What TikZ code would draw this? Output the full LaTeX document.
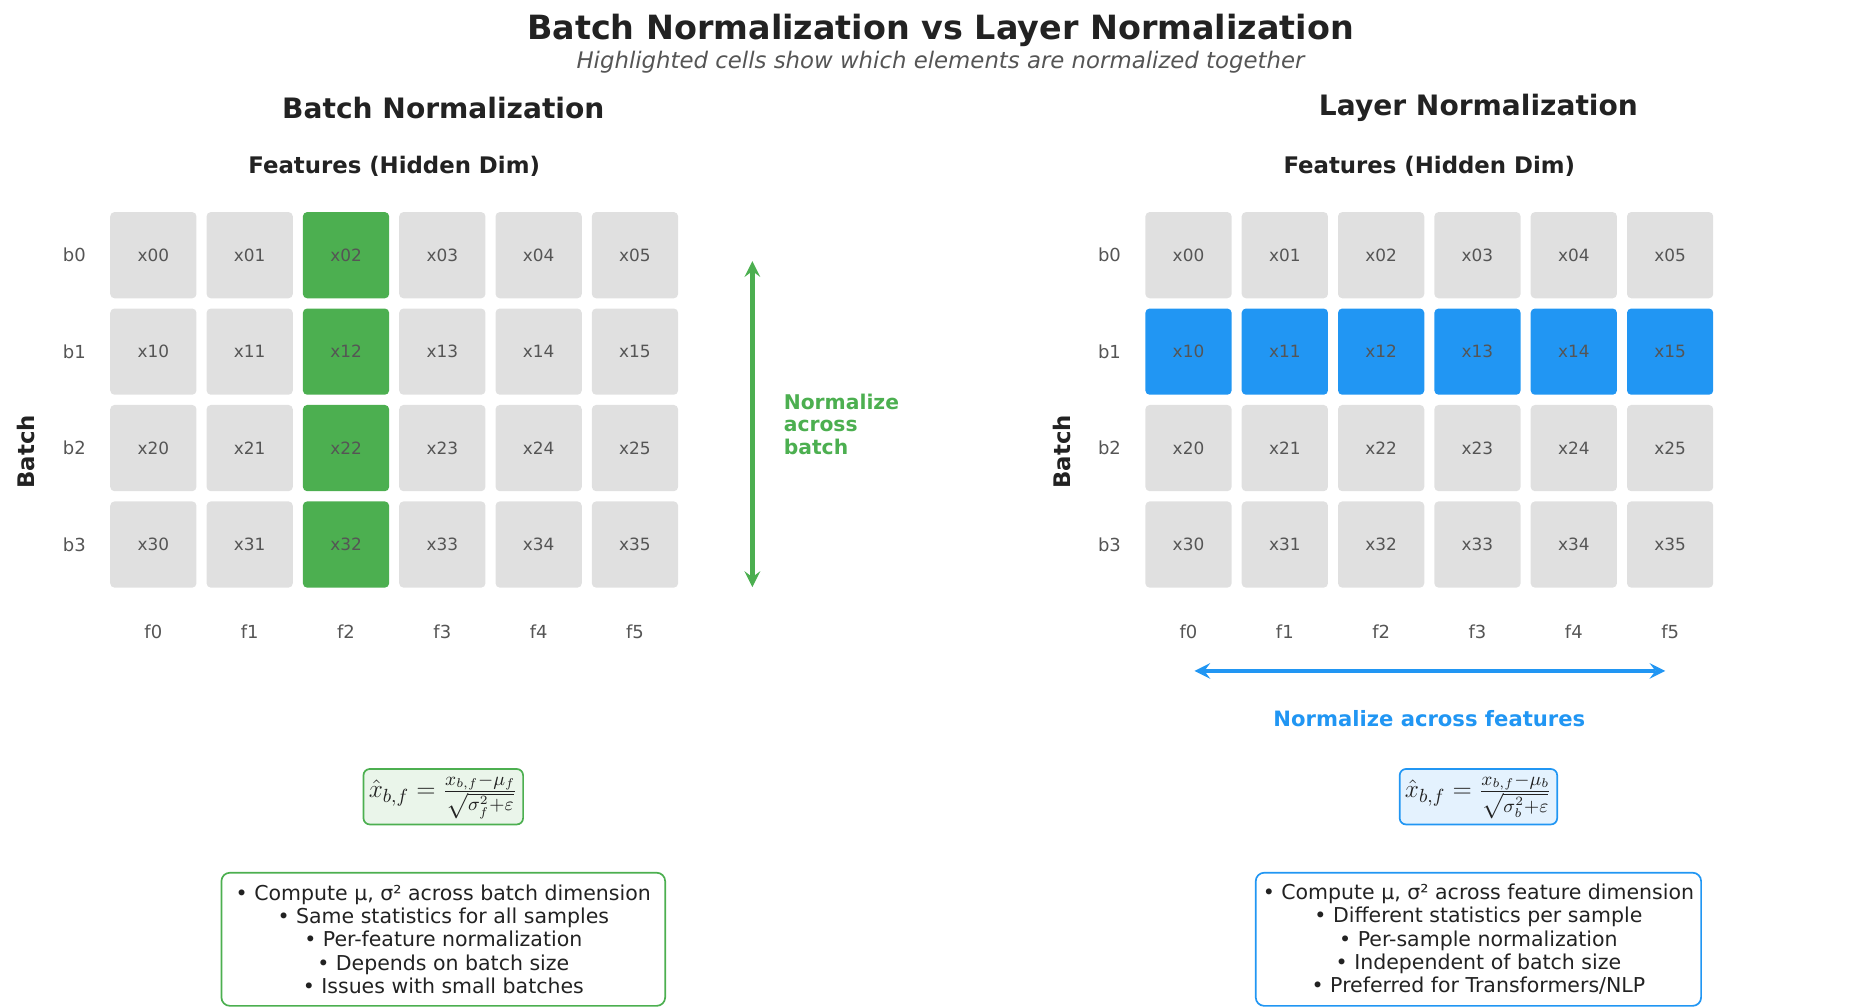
\documentclass[tikz,border=0pt]{standalone}
\usepackage{fontspec}
\setmainfont{DejaVu Sans}
\usetikzlibrary{positioning}
\definecolor{bngreen}{HTML}{4CAF50}
\definecolor{lnblue}{HTML}{2196F3}
\definecolor{cellgray}{HTML}{E0E0E0}
\definecolor{txtgray}{HTML}{555555}
\definecolor{dark}{HTML}{222222}
\tikzset{
  cell/.style={rounded corners=2pt, fill=cellgray, minimum width=40.8pt, minimum height=40.8pt, text=txtgray, font=\fontsize{8}{9}\selectfont},
  lbl/.style={text=txtgray, font=\fontsize{8.5}{10}\selectfont},
  head/.style={text=dark, font=\bfseries\fontsize{13.3}{15}\selectfont},
  sub/.style={text=dark, font=\bfseries\fontsize{10.8}{12}\selectfont},
  fbox/.style={draw, rounded corners=3pt, line width=0.8pt, inner sep=2.5pt, text=dark, font=\fontsize{13}{15}\selectfont},
  notes/.style={draw, rounded corners=4pt, line width=0.8pt, align=center, text=dark, minimum width=210pt, minimum height=63pt, font=\fontsize{9.7}{11}\selectfont},
}
\begin{document}
\begin{tikzpicture}[x=0.567pt, y=-0.567pt]
\useasboundingbox (0,0) rectangle (1560,840);
\node[text=dark, font=\bfseries\fontsize{15.8}{18}\selectfont] (title) at (785,25) {Batch Normalization vs Layer Normalization};
\node[text=txtgray, font=\itshape\fontsize{10.8}{12}\selectfont] (subtitle) at (785,52) {Highlighted cells show which elements are normalized together};

% batch norm grid
\node[head] (bnhead) at (370,90) {Batch Normalization};
\node[sub] (bnfeat) at (329,139) {Features (Hidden Dim)};
\node[sub, rotate=90] (bnbatch) at (22,377) {Batch};
\foreach \r in {0,...,3}{
  \node[lbl] (bnb\r) at (62,{213+80.5*\r}) {b\r};
  \foreach \c in {0,...,5}{
    \ifnum\c=2 \def\fc{bngreen}\else\def\fc{cellgray}\fi
    \node[cell, fill=\fc] (bn-\r-\c) at ({128+80.4*\c},{213+80.5*\r}) {x\r\c};
  }
}
\foreach \c in {0,...,5}
  \node[lbl] (bnf\c) at ({128+80.4*\c},527) {f\c};
\coordinate (bntop) at (628,218);
\coordinate (bnbot) at (628,490);
\draw[bngreen, line width=2.2pt, <->, >=stealth] (bntop) -- (bnbot);
\node[text=bngreen, font=\bfseries\fontsize{9.6}{10.6}\selectfont, align=left, anchor=west] (bnnote) at (648,354) {Normalize\\across\\batch};
\node[fbox, draw=bngreen, fill=bngreen!12] (bnform) at (370,665) {$\hat{x}_{b,f} = \frac{x_{b,f}-\mu_f}{\sqrt{\sigma_f^2+\varepsilon}}$};
\node[notes, draw=bngreen] (bnlist) at (370,784) {• Compute μ, σ² across batch dimension\\• Same statistics for all samples\\• Per-feature normalization\\• Depends on batch size\\• Issues with small batches};

% layer norm grid
\node[head] (lnhead) at (1234,90) {Layer Normalization};
\node[sub] (lnfeat) at (1193,139) {Features (Hidden Dim)};
\node[sub, rotate=90] (lnbatch) at (886,377) {Batch};
\foreach \r in {0,...,3}{
  \node[lbl] (lnb\r) at (926,{213+80.5*\r}) {b\r};
  \foreach \c in {0,...,5}{
    \ifnum\r=1 \def\fc{lnblue}\else\def\fc{cellgray}\fi
    \node[cell, fill=\fc] (ln-\r-\c) at ({992+80.4*\c},{213+80.5*\r}) {x\r\c};
  }
}
\foreach \c in {0,...,5}
  \node[lbl] (lnf\c) at ({992+80.4*\c},527) {f\c};
\coordinate (lnleft) at (997,560);
\coordinate (lnright) at (1390,560);
\draw[lnblue, line width=2.2pt, <->, >=stealth] (lnleft) -- (lnright);
\node[text=lnblue, font=\bfseries\fontsize{10}{11}\selectfont] (lnnote) at (1193,600) {Normalize across features};
\node[fbox, draw=lnblue, fill=lnblue!12] (lnform) at (1234,665) {$\hat{x}_{b,f} = \frac{x_{b,f}-\mu_b}{\sqrt{\sigma_b^2+\varepsilon}}$};
\node[notes, draw=lnblue] (lnlist) at (1234,784) {• Compute μ, σ² across feature dimension\\• Different statistics per sample\\• Per-sample normalization\\• Independent of batch size\\• Preferred for Transformers/NLP};
\end{tikzpicture}
\end{document}
